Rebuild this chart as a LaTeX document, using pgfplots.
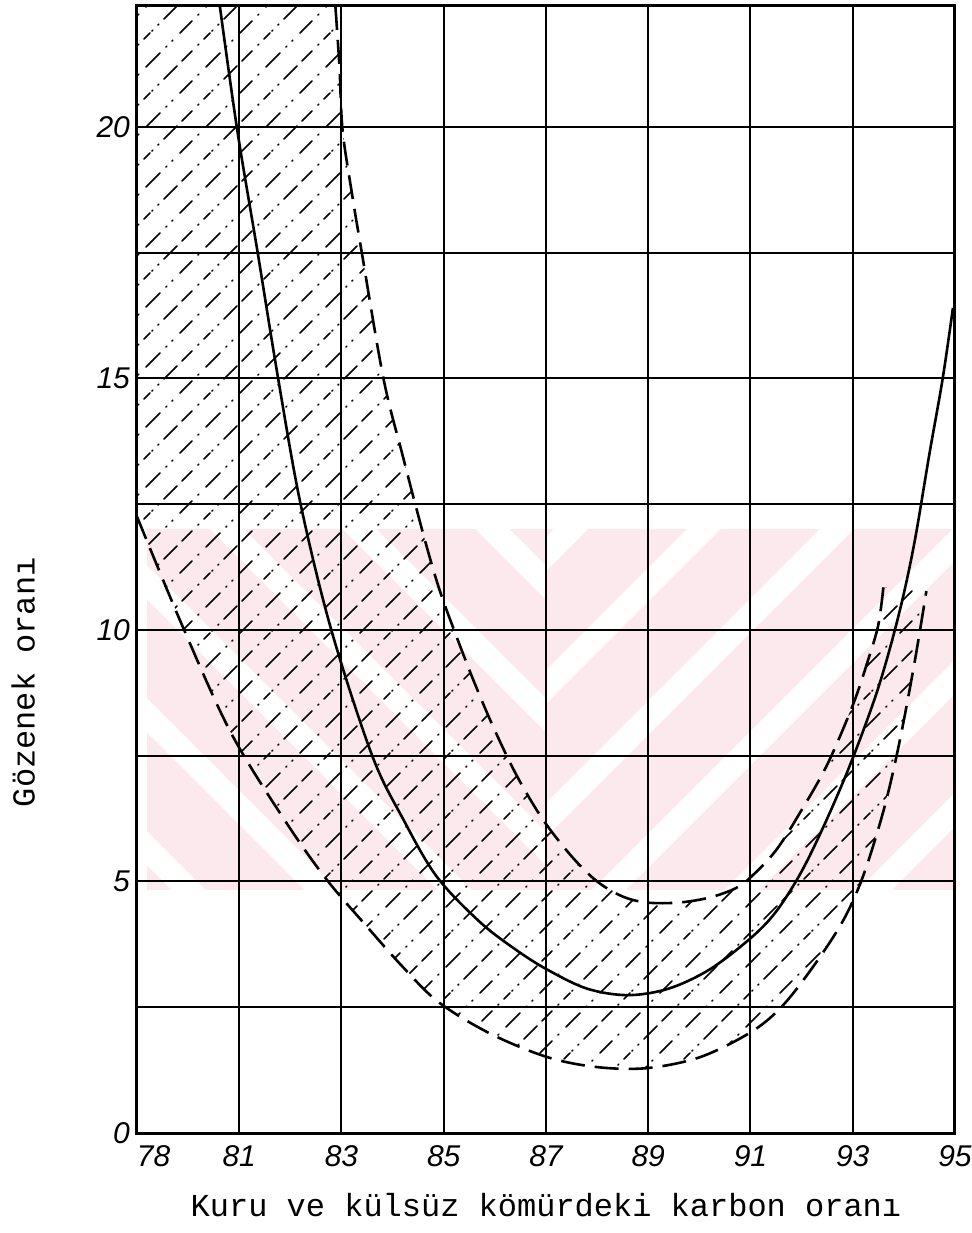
\documentclass[border=0pt]{standalone}
\usepackage{fontspec}
\setmainfont{Liberation Sans}
\newfontfamily\ticksf{Liberation Sans}
\newfontfamily\labeltt{Liberation Mono}
\usepackage{pgfplots}
\pgfplotsset{compat=1.18}
\usetikzlibrary{patterns,patterns.meta}

\definecolor{wmpink}{RGB}{252,233,237}

% dash / dot hatching along 45 degree lines, two lines per tile with shifted phase
\pgfdeclarepatternformonly{hatchdash}{\pgfqpoint{-1pt}{-1pt}}{\pgfqpoint{31pt}{31pt}}{\pgfqpoint{30pt}{30pt}}{%
  \pgfsetlinewidth{0.75pt}\pgfsetroundcap
  % line A
  \pgfpathmoveto{\pgfqpoint{0pt}{0pt}}\pgfpathlineto{\pgfqpoint{6pt}{6pt}}
  \pgfpathmoveto{\pgfqpoint{9pt}{9pt}}\pgfpathlineto{\pgfqpoint{9.4pt}{9.4pt}}
  \pgfpathmoveto{\pgfqpoint{13pt}{13pt}}\pgfpathlineto{\pgfqpoint{20pt}{20pt}}
  \pgfpathmoveto{\pgfqpoint{23pt}{23pt}}\pgfpathlineto{\pgfqpoint{23.4pt}{23.4pt}}
  \pgfpathmoveto{\pgfqpoint{26pt}{26pt}}\pgfpathlineto{\pgfqpoint{26.4pt}{26.4pt}}
  % line B
  \pgfpathmoveto{\pgfqpoint{16pt}{1pt}}\pgfpathlineto{\pgfqpoint{16.4pt}{1.4pt}}
  \pgfpathmoveto{\pgfqpoint{19pt}{4pt}}\pgfpathlineto{\pgfqpoint{19.4pt}{4.4pt}}
  \pgfpathmoveto{\pgfqpoint{22pt}{7pt}}\pgfpathlineto{\pgfqpoint{28.5pt}{13.5pt}}
  \pgfpathmoveto{\pgfqpoint{1pt}{16pt}}\pgfpathlineto{\pgfqpoint{6pt}{21pt}}
  \pgfpathmoveto{\pgfqpoint{9pt}{24pt}}\pgfpathlineto{\pgfqpoint{9.4pt}{24.4pt}}
  \pgfpathmoveto{\pgfqpoint{12pt}{27pt}}\pgfpathlineto{\pgfqpoint{15pt}{30pt}}
  \pgfusepath{stroke}}

% upper and lower bounds of the band, and the mean curve (x = category index)
\pgfplotstableread{
x y
1.94 22.4
1.98 21.2
2.01 19.94
2.10 18.7
2.20 17.48
2.41 15.0
2.60 13.45
2.80 11.9
2.95 10.85
3.10 10.0
3.30 8.95
3.50 8.0
3.72 7.08
3.97 6.23
4.25 5.5
4.50 5.0
4.75 4.7
4.99 4.58
5.30 4.58
5.60 4.68
5.85 4.86
6.00 5.08
6.25 5.62
6.50 6.42
6.75 7.32
7.00 8.5
7.15 9.4
7.25 10.1
7.30 10.85
}\upperband

\pgfplotstableread{
x y
0.00 12.25
0.45 10.05
0.92 7.95
1.45 6.2
1.85 5.05
2.25 4.1
2.60 3.3
2.95 2.6
3.45 1.98
4.01 1.51
4.50 1.31
4.99 1.29
5.51 1.51
6.00 2.0
6.30 2.5
6.60 3.27
6.90 4.2
7.10 5.1
7.30 6.4
7.45 7.7
7.60 9.3
7.72 10.77
}\lowerband

\pgfplotstableread{
x y
0.81 22.4
0.98 19.94
1.18 17.5
1.38 15.0
1.60 12.5
1.90 10.0
2.30 7.5
2.60 6.25
2.93 5.1
3.35 4.2
3.70 3.65
4.01 3.25
4.40 2.87
4.80 2.74
5.20 2.87
5.60 3.25
6.00 3.87
6.25 4.4
6.50 5.2
6.75 6.25
7.00 7.45
7.25 8.85
7.45 10.3
7.60 11.7
7.75 13.5
7.88 15.0
7.98 16.4
}\meancurve

\begin{document}
\begin{tikzpicture}
\begin{axis}[
  set layers,
  scale only axis,
  width=409pt, height=563.5pt,
  xmin=0, xmax=8, ymin=0, ymax=22.4,
  xtick={0,...,8},
  xticklabels={\makebox[0pt][l]{78},81,83,85,87,89,91,93,95},
  ytick={0,5,10,15,20},
  minor ytick={2.5,7.5,12.5,17.5},
  grid=both,
  major grid style={black, line width=1pt},
  minor grid style={black, line width=1pt},
  major tick length=0pt, minor tick length=0pt,
  axis line style={black, line width=1.5pt},
  tick label style={font=\ticksf\itshape\fontsize{15}{15}\selectfont},
  /pgf/number format/assume math mode=true,
  xticklabel style={yshift=-2.5pt},
  xlabel={Kuru ve külsüz kömürdeki karbon oranı},
  ylabel={Gözenek oranı},
  label style={font=\labeltt\fontsize{16}{16}\selectfont},
  xlabel style={at={(axis description cs:0.5,-0.064)}, anchor=center},
  ylabel style={at={(axis description cs:-0.139,0.40)}, anchor=center},
]

% faint striped watermark band behind the grid
\begin{pgfonlayer}{axis background}
  \fill[wmpink] (axis cs:0.1,4.82) rectangle (axis cs:8,12.0);
  \fill[pattern={Lines[angle=-45,distance=47pt,line width=12pt]}, pattern color=white]
    (axis cs:0.1,4.82) rectangle (axis cs:4.0,12.0);
  \fill[pattern={Lines[angle=45,distance=47pt,line width=12pt]}, pattern color=white]
    (axis cs:4.0,4.82) rectangle (axis cs:8,12.0);
\end{pgfonlayer}

% hatched scatter band between the two bounding curves
\addplot[draw=none, pattern=hatchdash] coordinates {
  (0,22.4) (1.94,22.4) (1.98,21.2) (2.01,19.94) (2.1,18.7) (2.2,17.48) (2.41,15.0)
  (2.6,13.45) (2.8,11.9) (2.95,10.85) (3.1,10.0) (3.3,8.95) (3.5,8.0) (3.72,7.08)
  (3.97,6.23) (4.25,5.5) (4.5,5.0) (4.75,4.7) (4.99,4.58) (5.3,4.58) (5.6,4.68)
  (5.85,4.86) (6.0,5.08) (6.25,5.62) (6.5,6.42) (6.75,7.32) (7.0,8.5) (7.15,9.4)
  (7.25,10.1) (7.3,10.85)
  (7.72,10.77) (7.6,9.3) (7.45,7.7) (7.3,6.4) (7.1,5.1) (6.9,4.2) (6.6,3.27)
  (6.3,2.5) (6.0,2.0) (5.51,1.51) (4.99,1.29) (4.5,1.31) (4.01,1.51) (3.45,1.98)
  (2.95,2.6) (2.6,3.3) (2.25,4.1) (1.85,5.05) (1.45,6.2) (0.92,7.95) (0.45,10.05)
  (0,12.25)
} -- cycle;

% upper bound
\addplot[black, line width=1.3pt, dash pattern=on 12pt off 5pt, smooth, tension=0.55]
  table {\upperband};
% lower bound
\addplot[black, line width=1.3pt, dash pattern=on 12pt off 5pt, smooth, tension=0.55]
  table {\lowerband};
% mean curve
\addplot[black, line width=1.3pt, smooth, tension=0.55] table {\meancurve};
\end{axis}
% fixed page frame around the plot area
\pgfresetboundingbox
\path[use as bounding box] (-68.5pt,-50pt) rectangle (417.5pt,566.5pt);
\end{tikzpicture}
\end{document}
